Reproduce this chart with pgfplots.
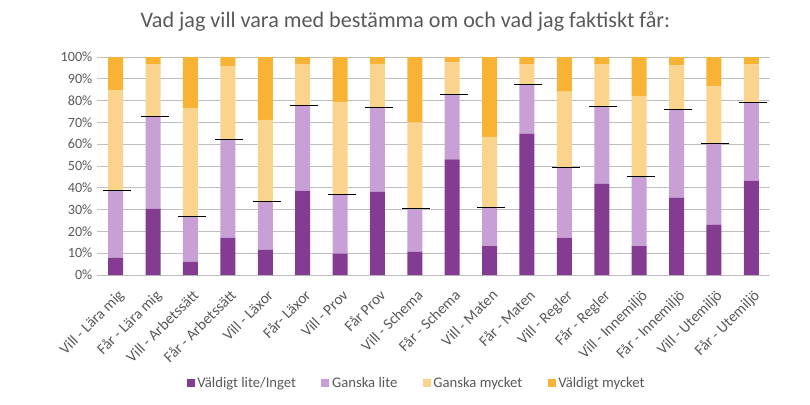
\documentclass[border=0pt]{standalone}
\usepackage{pgfplots}
\pgfplotsset{compat=1.18}
\usepackage{fontspec}
\setmainfont{Carlito}
\definecolor{vlite}{RGB}{131,60,145}
\definecolor{glite}{RGB}{200,160,213}
\definecolor{gmyck}{RGB}{250,211,140}
\definecolor{vmyck}{RGB}{248,178,52}
\definecolor{txt}{RGB}{89,89,89}
\definecolor{grid}{RGB}{217,217,217}
\begin{document}
\begin{tikzpicture}
\useasboundingbox (0,0) rectangle (607.5pt,303pt);
\node[text=txt,font=\fontsize{16.6}{19}\selectfont] at (304pt,287pt) {Vad jag vill vara med bestämma om och vad jag faktiskt får:};
\begin{axis}[
  at={(72.75pt,96.75pt)}, anchor=south west,
  scale only axis, width=504.75pt, height=163.5pt,
  ybar stacked, bar width=11.25pt,
  xmin=-0.5, xmax=17.5, ymin=0, ymax=100,
  xtick={0,...,17},
  xticklabels={Vill - Lära mig, Får - Lära mig, Vill - Arbetssätt, Får - Arbetssätt, Vill - Läxor, Får- Läxor, Vill - Prov, Får Prov, Vill - Schema, Får - Schema, Vill - Maten, Får - Maten, Vill - Regler, Får - Regler, Vill - Innemiljö, Får - Innemiljö, Vill - Utemiljö, Får - Utemiljö},
  xticklabel style={rotate=45, anchor=north east, font=\fontsize{11.5}{14}\selectfont, text=txt, xshift=-3pt, yshift=-4.5pt},
  ytick={0,10,...,100},
  yticklabel={\pgfmathprintnumber{\tick}\%},
  yticklabel style={font=\fontsize{10.6}{12}\selectfont, text=txt},
  /pgf/number format/assume math mode=true,
  ymajorgrids, grid style={grid, line width=0.75pt},
  axis line style={draw=none},
  major tick length=0pt,
  legend style={at={(0.4755,-0.495)}, anchor=center, draw=none, font=\fontsize{11}{13}\selectfont, text=txt, legend columns=4, /tikz/every even column/.append style={column sep=17pt}},
  legend image code/.code={\fill[#1] (0pt,-3pt) rectangle (6pt,3pt);},
]
\addplot[fill=vlite, draw=none] coordinates {(0,7.8) (1,30.3) (2,6.0) (3,17.0) (4,11.5) (5,38.6) (6,9.8) (7,38.1) (8,10.6) (9,53.0) (10,13.3) (11,64.8) (12,17.0) (13,41.8) (14,13.3) (15,35.5) (16,23.1) (17,43.2)};
\addplot[fill=glite, draw=none] coordinates {(0,31.1) (1,42.6) (2,21.0) (3,45.0) (4,22.3) (5,39.3) (6,27.3) (7,38.9) (8,19.9) (9,30.0) (10,17.8) (11,22.8) (12,32.5) (13,35.7) (14,32.0) (15,40.2) (16,37.4) (17,36.1)};
\addplot[fill=gmyck, draw=none] coordinates {(0,45.8) (1,23.7) (2,49.4) (3,33.7) (4,37.4) (5,19.0) (6,42.1) (7,19.9) (8,39.5) (9,14.5) (10,32.3) (11,9.0) (12,34.6) (13,19.1) (14,36.9) (15,20.5) (16,26.0) (17,17.3)};
\addplot[fill=vmyck, draw=none] coordinates {(0,15.3) (1,3.4) (2,23.6) (3,4.3) (4,28.8) (5,3.1) (6,20.8) (7,3.1) (8,30.0) (9,2.5) (10,36.6) (11,3.4) (12,15.9) (13,3.4) (14,17.8) (15,3.8) (16,13.5) (17,3.4)};
\legend{Väldigt lite/Inget, Ganska lite, Ganska mycket, Väldigt mycket}
\end{axis}
\begin{axis}[
  at={(72.75pt,96.75pt)}, anchor=south west,
  scale only axis, width=504.75pt, height=163.5pt,
  xmin=-0.5, xmax=17.5, ymin=0, ymax=100,
  hide axis,
]
\addplot[only marks, mark=-, mark size=10.5pt, mark options={line width=0.75pt, draw=black}] coordinates {(0.04,38.9) (1.04,72.9) (2.04,27.0) (3.04,62.0) (4.04,33.8) (5.04,77.9) (6.04,37.1) (7.04,77.0) (8.04,30.5) (9.04,83.0) (10.04,31.1) (11.04,87.6) (12.04,49.5) (13.04,77.5) (14.04,45.3) (15.04,75.7) (16.04,60.5) (17.04,79.3)};
\end{axis}
\end{tikzpicture}
\end{document}
